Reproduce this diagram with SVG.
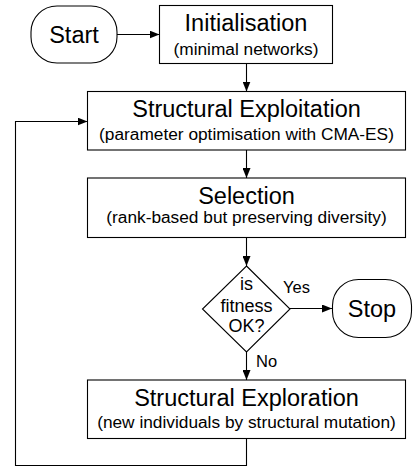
<svg xmlns="http://www.w3.org/2000/svg" width="414" height="468" viewBox="0 0 414 468">
<style>
.box{fill:#fff;stroke:#000;stroke-width:1.1}
.t{font-family:"Liberation Sans",Arial,sans-serif;fill:#000;text-anchor:middle}
.big{font-size:23.5px}
.sub{font-size:17.3px}
.dia{font-size:18px}
.lbl{font-family:"Liberation Sans",Arial,sans-serif;fill:#000;font-size:16.5px}
.c{fill:none;stroke:#000;stroke-width:1.1}
</style>
<defs>
<marker id="ah" viewBox="0 0 10 8" refX="10" refY="4" markerWidth="10" markerHeight="8" markerUnits="userSpaceOnUse" orient="auto">
<path d="M0,0 L10,4 L0,8 Z" fill="#000"/>
</marker>
</defs>
<g id="connectors">
<path class="c" d="M117,34.5 H159.5" marker-end="url(#ah)"/>
<path class="c" d="M246.5,63.5 V91.5" marker-end="url(#ah)"/>
<path class="c" d="M246.5,150 V178" marker-end="url(#ah)"/>
<path class="c" d="M246.5,237.5 V266" marker-end="url(#ah)"/>
<path class="c" d="M290,308.5 H332" marker-end="url(#ah)"/>
<path class="c" d="M246.5,352 V380" marker-end="url(#ah)"/>
<path class="c" d="M246.5,438.5 V465.5 H15.5 V121.5 H87.5" marker-end="url(#ah)"/>
</g>
<g id="start">
<rect class="box" x="31" y="6" width="86" height="57" rx="26" ry="26"/>
<text class="t big" x="74" y="43">Start</text>
</g>
<g id="init">
<rect class="box" x="159.5" y="5.5" width="173" height="58"/>
<text class="t big" x="246" y="31">Initialisation</text>
<text class="t sub" x="246" y="54.5">(minimal networks)</text>
</g>
<g id="exploitation">
<rect class="box" x="87.5" y="91.5" width="318" height="58.5"/>
<text class="t big" x="246.5" y="117">Structural Exploitation</text>
<text class="t sub" x="246.5" y="140">(parameter optimisation with CMA-ES)</text>
</g>
<g id="selection">
<rect class="box" x="87.5" y="178" width="318" height="59.5"/>
<text class="t big" x="246.5" y="204">Selection</text>
<text class="t sub" x="246.5" y="223">(rank-based but preserving diversity)</text>
</g>
<g id="decision">
<polygon class="box" points="246.5,266 290,309 246.5,352 202.5,309"/>
<text class="t dia" x="246.5" y="290">is</text>
<text class="t dia" x="246.5" y="311.5">fitness</text>
<text class="t dia" x="246.5" y="331.5">OK?</text>
<text class="lbl" x="283" y="293">Yes</text>
<text class="lbl" x="256" y="367">No</text>
</g>
<g id="stop">
<rect class="box" x="332.5" y="279.5" width="79" height="58" rx="26" ry="26"/>
<text class="t big" x="372" y="316.5">Stop</text>
</g>
<g id="exploration">
<rect class="box" x="87.5" y="380" width="318" height="58.5"/>
<text class="t big" x="246.5" y="406">Structural Exploration</text>
<text class="t sub" x="246.5" y="428">(new individuals by structural mutation)</text>
</g>
</svg>
